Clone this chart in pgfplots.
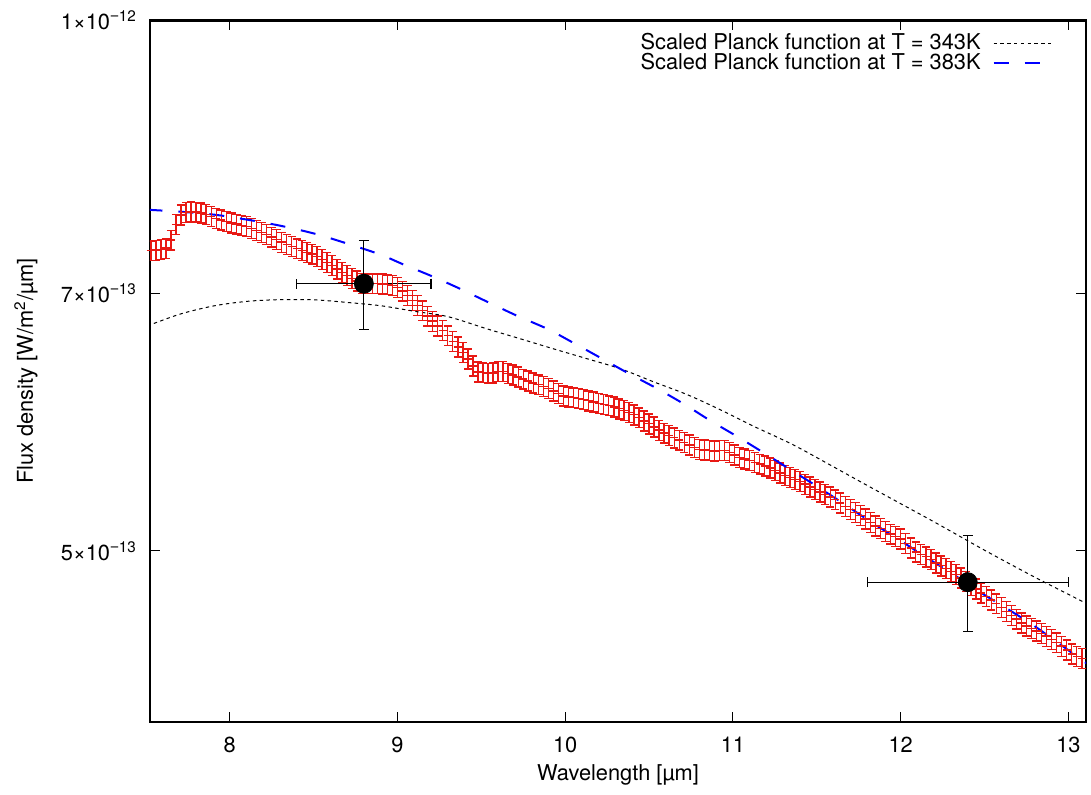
\documentclass[border=0pt]{standalone}
\usepackage{pgfplots}
\pgfplotsset{compat=1.18}
\usepackage{fontspec}
\setmainfont{TeX Gyre Heros}
\newfontfamily\lib{Liberation Sans}
\definecolor{datared}{RGB}{232,25,20}
\definecolor{fitblue}{RGB}{0,0,255}
\newcommand{\fs}{\fontsize{10.9}{12.5}\selectfont}
\newcommand{\tl}[2]{#1×10\textsuperscript{{\lib −}#2}}
\pgfplotstableread{
x y
7.53 7.403
7.56 7.408
7.59 7.415
7.62 7.427
7.65 7.505
7.68 7.660
7.71 7.758
7.74 7.781
7.77 7.786
7.80 7.787
7.83 7.776
7.86 7.763
7.89 7.743
7.92 7.724
7.95 7.708
7.98 7.692
8.01 7.676
8.04 7.665
8.07 7.653
8.10 7.641
8.13 7.623
8.16 7.603
8.19 7.582
8.22 7.560
8.25 7.535
8.28 7.511
8.31 7.486
8.34 7.465
8.37 7.443
8.40 7.422
8.43 7.405
8.46 7.387
8.49 7.370
8.52 7.347
8.55 7.319
8.58 7.292
8.61 7.260
8.64 7.227
8.67 7.195
8.70 7.167
8.73 7.140
8.76 7.117
8.79 7.094
8.82 7.090
8.85 7.090
8.88 7.090
8.91 7.088
8.94 7.081
8.97 7.075
9.00 7.056
9.03 7.022
9.06 6.983
9.09 6.938
9.12 6.892
9.15 6.844
9.18 6.796
9.21 6.751
9.24 6.710
9.27 6.668
9.30 6.624
9.33 6.576
9.36 6.529
9.39 6.481
9.42 6.425
9.45 6.368
9.48 6.318
9.51 6.312
9.54 6.305
9.57 6.309
9.60 6.322
9.63 6.320
9.66 6.307
9.69 6.293
9.72 6.276
9.75 6.259
9.78 6.243
9.81 6.228
9.84 6.213
9.87 6.199
9.90 6.184
9.93 6.164
9.96 6.143
9.99 6.123
10.02 6.116
10.05 6.109
10.08 6.102
10.11 6.093
10.14 6.084
10.17 6.075
10.20 6.065
10.23 6.055
10.26 6.045
10.29 6.035
10.32 6.021
10.35 6.007
10.38 5.994
10.41 5.974
10.44 5.951
10.47 5.927
10.50 5.904
10.53 5.880
10.56 5.855
10.59 5.832
10.62 5.814
10.65 5.797
10.68 5.779
10.71 5.761
10.74 5.743
10.77 5.725
10.80 5.711
10.83 5.706
10.86 5.702
10.89 5.699
10.92 5.703
10.95 5.703
10.98 5.686
11.01 5.668
11.04 5.651
11.07 5.638
11.10 5.626
11.13 5.614
11.16 5.601
11.19 5.588
11.22 5.573
11.25 5.554
11.28 5.536
11.31 5.519
11.34 5.504
11.37 5.489
11.40 5.474
11.43 5.456
11.46 5.437
11.49 5.419
11.52 5.400
11.55 5.382
11.58 5.365
11.61 5.346
11.64 5.323
11.67 5.301
11.70 5.279
11.73 5.258
11.76 5.236
11.79 5.213
11.82 5.189
11.85 5.167
11.88 5.148
11.91 5.129
11.94 5.111
11.97 5.095
12.00 5.080
12.03 5.051
12.06 5.020
12.09 4.994
12.12 4.978
12.15 4.962
12.18 4.944
12.21 4.923
12.24 4.904
12.27 4.886
12.30 4.869
12.33 4.850
12.36 4.827
12.39 4.805
12.42 4.781
12.45 4.757
12.48 4.732
12.51 4.711
12.54 4.690
12.57 4.667
12.60 4.644
12.63 4.620
12.66 4.596
12.69 4.574
12.72 4.551
12.75 4.534
12.78 4.518
12.81 4.503
12.84 4.488
12.87 4.473
12.90 4.455
12.93 4.435
12.96 4.415
12.99 4.393
13.02 4.371
13.05 4.355
13.08 4.345
}\spectrum
\begin{document}
\begin{tikzpicture}
\path[use as bounding box] (-75pt,-36.15pt) rectangle (470.5pt,360.85pt);
\begin{axis}[
  at={(0pt,0pt)}, anchor=south west,
  scale only axis, width=468pt, height=350.6pt,
  xmin=7.525, xmax=13.105, ymin=4, ymax=10, ymode=log,
  xtick={8,9,10,11,12,13},
  ytick={5,7,10},
  yticklabels={\tl{5}{13},\tl{7}{13},\tl{1}{12}},
  minor tick length=0pt,
  tick align=inside, major tick length=5pt,
  every tick/.style={black, line width=0.5pt},
  axis line style={line width=1.1pt},
  tick label style={font=\fs},
  /pgf/number format/assume math mode=true,
  xticklabel style={yshift=-4pt},
  yticklabel style={xshift=-3pt},
  xlabel={Wavelength [µm]},
  ylabel={Flux density [W/m\textsuperscript{2}/µm]},
  label style={font=\fs},
  xlabel style={at={(axis description cs:0.5,-0.0756)}, anchor=center},
  ylabel style={at={(axis description cs:-0.1325,0.5)}, anchor=center},
  legend plot pos=right,
  legend cell align=right,
  legend image code/.code={\draw[#1] (0pt,0pt) -- (30pt,0pt);},
  legend style={at={(axis description cs:1,1)}, anchor=north east,
    xshift=-15.5pt, yshift=-6.25pt, draw=none, fill=none, inner sep=0pt,
    font=\fs, column sep=6pt,
    nodes={inner sep=0pt, text height=8pt, text depth=2pt}},
]
\addplot[forget plot, only marks, color=datared, mark=+, mark size=2.1pt,
  mark options={draw=datared, line width=0.7pt},
  error bars/.cd, y dir=both, y fixed relative=0.013,
  error bar style={line width=0.7pt, draw=datared},
  error mark options={rotate=90, draw=datared, mark size=2.1pt, line width=0.7pt}]
  table[x=x, y=y] {\spectrum};
\addplot[black, line width=0.5pt, dash pattern=on 1.7pt off 1.7pt, smooth] coordinates {
(7.51,6.710) (7.707,6.815) (7.910,6.889) (8.108,6.929) (8.305,6.944) (8.508,6.942) (8.705,6.918) (8.902,6.889) (9.105,6.838) (9.302,6.791) (9.535,6.684) (9.732,6.598) (9.930,6.512) (10.133,6.427) (10.330,6.344) (10.527,6.237) (10.730,6.132) (10.927,6.012) (11.106,5.896) (11.285,5.789) (11.405,5.714) (11.805,5.444) (12.200,5.193) (12.498,5.006) (12.797,4.833) (13.114,4.665)
};
\addlegendentry{Scaled Planck function at T = 343K}
\addplot[fitblue, line width=1pt, dash pattern=on 7.5pt off 8pt, smooth] coordinates {
(7.510,7.810) (7.707,7.789) (7.910,7.759) (8.108,7.709) (8.305,7.648) (8.508,7.569) (8.705,7.470) (8.902,7.364) (9.027,7.277) (9.213,7.155) (9.374,7.043) (9.535,6.925) (9.714,6.799) (9.894,6.684) (10.049,6.563) (10.210,6.436) (10.372,6.310) (10.551,6.180) (10.706,6.060) (10.867,5.927) (11.029,5.804) (11.184,5.684) (11.345,5.559) (11.507,5.436) (11.662,5.317) (11.823,5.193) (11.984,5.079) (12.140,4.967) (12.301,4.858) (12.462,4.745) (12.618,4.647) (12.779,4.545) (12.916,4.450) (13.114,4.313)
};
\addlegendentry{Scaled Planck function at T = 383K}
\addplot[forget plot, only marks, black, mark=*, mark size=4.75pt,
  error bars/.cd, x dir=both, x explicit, y dir=both, y explicit,
  error bar style={line width=0.6pt, black},
  error mark options={rotate=90, black, mark size=2.5pt, line width=0.6pt}]
  coordinates {(8.8,7.09) +- (0.4,0.41) (12.4,4.80) +- (0.6,0.30)};
\end{axis}
\end{tikzpicture}
\end{document}
